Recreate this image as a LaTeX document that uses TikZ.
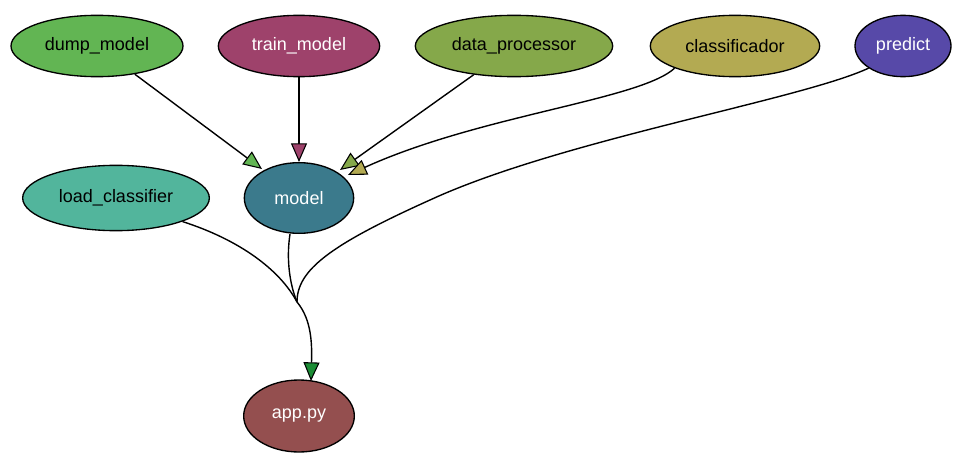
\documentclass[tikz,border=0pt]{standalone}
\usepackage{fontspec}
\setmainfont{Liberation Sans}
\usetikzlibrary{arrows.meta,shapes.geometric}
\definecolor{cdump}{HTML}{62B553}
\definecolor{ctrain}{HTML}{9E426B}
\definecolor{cdata}{HTML}{85A84A}
\definecolor{cclass}{HTML}{B3AA52}
\definecolor{cpred}{HTML}{5749A8}
\definecolor{cload}{HTML}{52B59C}
\definecolor{cmodel}{HTML}{3B7A8C}
\definecolor{capp}{HTML}{944F4F}
\definecolor{carrow}{HTML}{1B8C35}
\tikzset{
  mod/.style={ellipse,draw=black,line width=1pt,inner sep=0pt,font=\fontsize{13.5}{15}\selectfont},
  edge/.style={draw=black,line width=1.05pt},
  tip/.style={-{Triangle[length=14pt,width=12pt,fill=#1,line width=0.8pt]}}
}
\begin{document}
\begin{tikzpicture}[x=0.75pt,y=-0.75pt]
\useasboundingbox (0,0) rectangle (967,460);
\node[mod,fill=cdump,minimum width=129pt,minimum height=46pt] (dump) at (97,46) {dump\_model};
\node[mod,fill=ctrain,text=white,minimum width=121pt,minimum height=46pt] (train) at (299,46) {train\_model};
\node[mod,fill=cdata,minimum width=148pt,minimum height=46pt] (data) at (514,46) {data\_processor};
\node[mod,fill=cclass,minimum width=127pt,minimum height=46pt] (class) at (735,46) {classificador};
\node[mod,fill=cpred,text=white,minimum width=72pt,minimum height=46pt] (pred) at (903,46) {predict};
\node[mod,fill=cload,minimum width=140pt,minimum height=49pt] (load) at (116,198) {load\_classifier};
\node[mod,fill=cmodel,text=white,minimum width=82pt,minimum height=53pt] (model) at (299,198) {model};
\node[mod,fill=capp,text=white,minimum width=83pt,minimum height=54pt] (app) at (299,416) {app.py};
\coordinate (m) at (297,302);
\coordinate (appin) at (311,381);
\draw[edge,tip=cdump] (dump) -- (262,169);
\draw[edge,tip=ctrain] (train) -- (299,162);
\draw[edge,tip=cdata] (data) -- (340,170);
\draw[edge,tip=cclass] (class.south west) .. controls (640,100) and (480,115) .. (348,175);
\draw[edge] (pred.south west) .. controls (800,100) and (560,140) .. (430,200) .. controls (330,245) and (297,270) .. (m);
\draw[edge] (load.south east) .. controls (240,240) and (280,270) .. (m);
\draw[edge] ([xshift=-6.75pt]model.south) .. controls (286,260) and (290,285) .. (m);
\draw[edge,tip=carrow] (m) .. controls (312,320) and (312,345) .. (appin);
\end{tikzpicture}
\end{document}
